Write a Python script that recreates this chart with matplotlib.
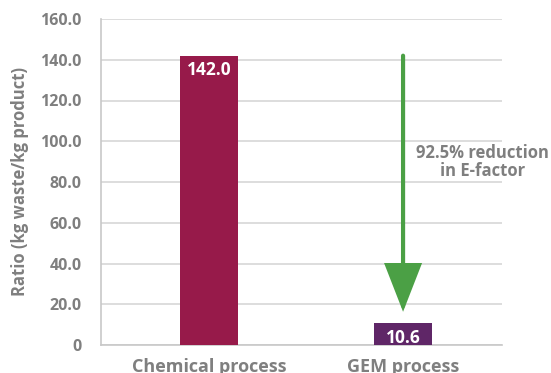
import matplotlib.pyplot as plt
from matplotlib.ticker import FuncFormatter

categories = ["Chemical process", "GEM process"]
e_factor = [142.0, 10.6]
bar_colors = ["#971a4a", "#5f2667"]
y_ticks = [0, 20, 40, 60, 80, 100, 120, 140, 160]
note = "92.5% reduction\nin E-factor"

GREY = "#7f7f7f"
plt.rcParams["font.family"] = ["Open Sans", "DejaVu Sans"]
plt.rcParams["font.weight"] = "bold"

fig = plt.figure(figsize=(5.51, 3.73), dpi=100)
ax = fig.add_axes([101 / 551, 28 / 373, 401 / 551, 326 / 373])

x = [0, 1]
ax.bar(x, e_factor, width=0.3, color=bar_colors, zorder=3)
ax.set_xlim(-0.557, 1.51)
ax.set_ylim(0, 160)
ax.set_yticks(y_ticks)
ax.yaxis.set_major_formatter(FuncFormatter(lambda v, _: "0" if v == 0 else f"{v:.1f}"))
ax.set_xticks(x)
ax.set_xticklabels(categories, fontsize=13, color=GREY, fontweight="bold")
ax.tick_params(axis="y", length=0, pad=14, labelsize=11.5, labelcolor=GREY)
ax.tick_params(axis="x", length=0, pad=9)
for lbl in ax.get_yticklabels():
    lbl.set_fontweight("bold")

ax.grid(axis="y", color="#d3d3d3", linewidth=1.1, zorder=0)
for side in ("top", "right"):
    ax.spines[side].set_visible(False)
for side in ("left", "bottom"):
    ax.spines[side].set_color("#c8c8c8")
    ax.spines[side].set_linewidth(1.2)

ax.set_ylabel("Ratio (kg waste/kg product)", fontsize=12, color=GREY,
              fontweight="bold", labelpad=8)

# value labels sit just inside the top of each bar
for xi, v in zip(x, e_factor):
    ax.text(xi, v - 2.8, f"{v:.1f}", ha="center", va="top", color="white",
            fontsize=12.5, fontweight="bold", zorder=4)

# arrow from the chemical level down to the GEM bar
ax.annotate("", xy=(1, 16.3), xytext=(1, e_factor[0]),
            arrowprops=dict(arrowstyle="-|>,head_length=2.95,head_width=1.15",
                            color="#4ba045", lw=3, shrinkA=0, shrinkB=0,
                            joinstyle="miter"),
            zorder=5)
ax.text(1.41, 90, note, ha="center", va="center", color=GREY,
        fontsize=12, fontweight="bold", linespacing=1.0)

fig.savefig("out.png", dpi=100)
